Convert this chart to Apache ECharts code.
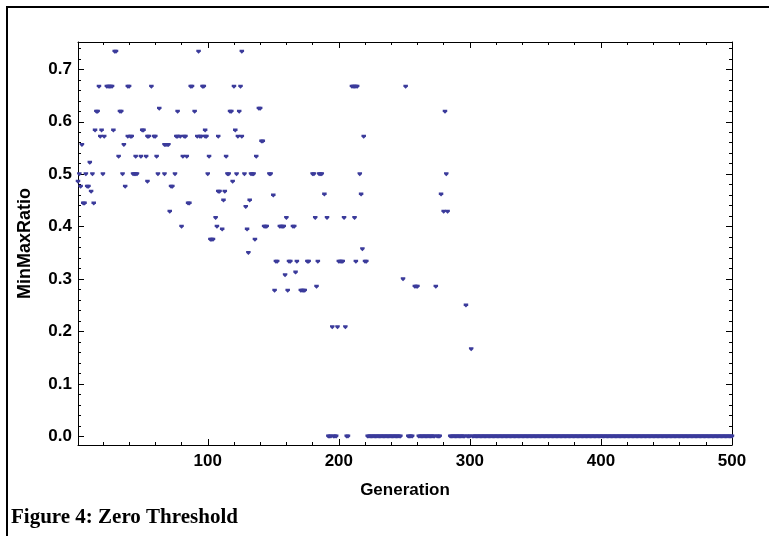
<!DOCTYPE html>
<html><head><meta charset="utf-8">
<script src="https://cdn.jsdelivr.net/npm/echarts@6/dist/echarts.min.js"></script>
<style>html,body{margin:0;padding:0;background:#fff}#c{width:769px;height:536px}</style>
</head><body><div id="c"></div>
<script>
// ---- data (generation numbers at each MinMaxRatio level) ----
const levels = [0.7333, 0.6667, 0.625, 0.619, 0.5833, 0.5714, 0.5625, 0.5556, 0.5333, 0.5217,
  0.5, 0.4857, 0.4762, 0.4667, 0.4615, 0.4595, 0.45, 0.4444, 0.4375, 0.4286, 0.4167, 0.4,
  0.3947, 0.375, 0.3571, 0.35, 0.3333, 0.3125, 0.3077, 0.3, 0.2857, 0.2778, 0.25, 0.2083, 0.1667];
const generationsAtLevel = [
  [29, 30, 93, 126],
  [17, 23, 24, 25, 26, 27, 39, 40, 57, 87, 88, 96, 97, 120, 125, 210, 211, 212, 213, 214, 251],
  [63, 139, 140],
  [15, 16, 33, 34, 77, 90, 117, 118, 124, 281],
  [14, 19, 28, 50, 51, 98, 121],
  [18, 21, 39, 41, 42, 54, 55, 59, 60, 76, 77, 79, 82, 83, 92, 94, 95, 98, 99, 108, 123, 126, 219],
  [141, 142],
  [4, 36, 67, 68, 69, 70],
  [32, 45, 49, 53, 61, 81, 84, 101, 114, 137],
  [10],
  [2, 7, 12, 20, 35, 43, 44, 45, 46, 62, 67, 75, 100, 115, 116, 122, 128, 133, 134, 135, 147, 148, 180, 181, 185, 186, 187, 216, 282],
  [1, 54, 119],
  [3, 8, 9, 37, 72, 73],
  [11, 108, 109, 113],
  [189, 217, 278],
  [150],
  [112, 132],
  [5, 6, 13, 85, 86],
  [129],
  [71, 280, 283],
  [106, 160, 182, 191, 204, 212],
  [80, 107, 143, 144, 145, 155, 156, 157, 158, 165, 166],
  [111, 130],
  [102, 103, 104, 136],
  [218],
  [131],
  [152, 153, 162, 163, 168, 176, 177, 184, 200, 201, 202, 203, 213, 220, 221],
  [167],
  [159],
  [249],
  [183, 258, 259, 260, 274],
  [151, 161, 171, 172, 173, 174],
  [297],
  [195, 199, 205],
  [301]
];
// runs of consecutive generations whose ratio is 0.0 (start, end inclusive)
const zeroRuns = [[192, 194], [196, 198], [206, 207], [222, 247], [253, 256], [261, 273],
  [275, 277], [285, 296], [298, 300], [302, 500]];

const xMajorTicks = [100, 200, 300, 400, 500];
const xMinorTicks = [20, 40, 60, 80, 120, 140, 160, 180, 220, 240, 260, 280, 320, 340, 360, 380, 420, 440, 460, 480];
const yMajorTicks = [0, 0.1, 0.2, 0.3, 0.4, 0.5, 0.6, 0.7];
const yMinorTicks = [0.02, 0.04, 0.06, 0.08, 0.12, 0.14, 0.16, 0.18, 0.22, 0.24, 0.26, 0.28,
  0.32, 0.34, 0.36, 0.38, 0.42, 0.44, 0.46, 0.48, 0.52, 0.54, 0.56, 0.58, 0.62, 0.64, 0.66, 0.68, 0.72, 0.74];

// ---- build points ----
const points = [];
levels.forEach((v, i) => generationsAtLevel[i].forEach(g => points.push([g, v])));
zeroRuns.forEach(([a, b]) => { for (let g = a; g <= b; g++) points.push([g, 0]); });

const X_MIN = 1, X_MAX = 500, Y_MIN = -0.016, Y_MAX = 0.752;
const labelFont = { color: '#000', fontWeight: 'bold', fontSize: 17, fontFamily: 'Liberation Sans, Arial, sans-serif' };

function xAx(pos, ticks, len, opts) {
  return Object.assign({
    type: 'value', position: pos, min: X_MIN, max: X_MAX,
    axisLine: { show: false, onZero: false },
    axisTick: { show: true, inside: true, length: len, customValues: ticks, lineStyle: { color: '#000', width: 1 } },
    axisLabel: { show: false }, splitLine: { show: false }
  }, opts || {});
}
function yAx(pos, ticks, len, opts) {
  return Object.assign({
    type: 'value', position: pos, min: Y_MIN, max: Y_MAX,
    axisLine: { show: false, onZero: false },
    axisTick: { show: true, inside: true, length: len, customValues: ticks, lineStyle: { color: '#000', width: 1 } },
    axisLabel: { show: false }, splitLine: { show: false }
  }, opts || {});
}

const option = {
  animation: false,
  backgroundColor: '#fff',
  grid: { left: 78, right: 37, top: 42, bottom: 91, containLabel: false },
  xAxis: [
    xAx('bottom', xMajorTicks, 6, {
      axisLine: { show: true, onZero: false, lineStyle: { color: '#000', width: 1 } },
      axisLabel: Object.assign({ show: true, customValues: xMajorTicks, margin: 8, formatter: v => String(Math.round(v)) }, labelFont),
      name: 'Generation', nameLocation: 'middle', nameGap: 37,
      nameTextStyle: Object.assign({}, labelFont)
    }),
    xAx('bottom', xMinorTicks, 3),
    xAx('top', xMajorTicks, 6, { axisLine: { show: true, onZero: false, lineStyle: { color: '#000', width: 1 } } }),
    xAx('top', xMinorTicks, 3)
  ],
  yAxis: [
    yAx('left', yMajorTicks, 6, {
      axisLine: { show: true, onZero: false, lineStyle: { color: '#000', width: 1 } },
      axisLabel: Object.assign({ show: true, customValues: yMajorTicks, margin: 6, formatter: v => v.toFixed(1) }, labelFont),
      name: 'MinMaxRatio', nameLocation: 'middle', nameGap: 44,
      nameTextStyle: Object.assign({}, labelFont, { fontSize: 18 })
    }),
    yAx('left', yMinorTicks, 3),
    yAx('right', yMajorTicks, 6, { axisLine: { show: true, onZero: false, lineStyle: { color: '#000', width: 1 } } }),
    yAx('right', yMinorTicks, 3)
  ],
  series: [{
    type: 'scatter', xAxisIndex: 0, yAxisIndex: 0, data: points,
    symbol: 'path://M0,0L10,0L10,4L5,9L0,4Z', symbolSize: [4.5, 4],
    itemStyle: { color: '#3b3b9b', opacity: 1 }, silent: true
  }],
  graphic: [
    { type: 'rect', shape: { x: 7, y: 7, width: 820, height: 560 }, style: { fill: 'none', stroke: '#000', lineWidth: 2 }, silent: true },
    { type: 'text', left: 11, top: 507, style: { text: 'Figure 4: Zero Threshold', font: 'bold 21px "Liberation Serif", "Times New Roman", serif', fill: '#000' }, silent: true }
  ]
};
echarts.init(document.getElementById('c'), null, { renderer: 'canvas' }).setOption(option);
</script></body></html>
